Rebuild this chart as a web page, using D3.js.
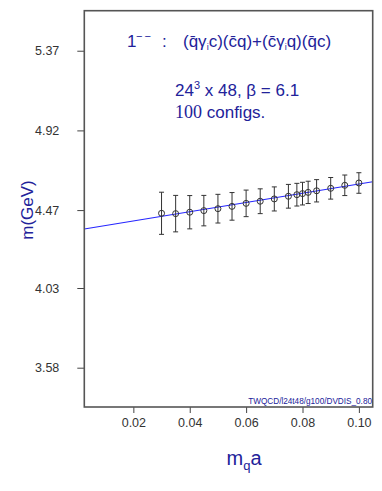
<!DOCTYPE html>
<html><head><meta charset="utf-8">
<script src="https://cdn.jsdelivr.net/npm/d3@7"></script>
<style>body{margin:0;background:#fff}svg{display:block}</style>
</head><body>
<svg id="c" width="382" height="491"></svg>
<script>
const mqa = [0.03,0.035,0.04,0.045,0.05,0.055,0.06,0.065,0.07,0.075,0.078,0.08,0.082,0.085,0.09,0.095,0.1];
const mass = [4.452,4.450,4.458,4.467,4.478,4.491,4.508,4.520,4.533,4.548,4.557,4.563,4.570,4.579,4.593,4.610,4.623];
const err = [0.119,0.103,0.094,0.086,0.081,0.078,0.075,0.070,0.068,0.067,0.064,0.064,0.063,0.063,0.061,0.058,0.058];
const fitLine = [4.356, 2.61]; // intercept, slope
const xTicks = [0.02,0.04,0.06,0.08,0.10];
const yTicks = [3.58,4.03,4.47,4.92,5.37];

const L=84.3,R=372.7,T=10.7,B=407;
const x=d3.scaleLinear().domain([0.0026,0.1049]).range([L,R]);
const y=d3.scaleLinear().domain([3.358,5.596]).range([B,T]);
const svg=d3.select("#c");
const navy="#22229a";

// axes
const gx=svg.append("g").attr("transform",`translate(0,${B})`)
  .call(d3.axisBottom(x).tickValues(xTicks).tickFormat(d3.format(".2f")).tickSize(6).tickPadding(5));
const gy=svg.append("g").attr("transform",`translate(${L},0)`)
  .call(d3.axisLeft(y).tickValues(yTicks).tickFormat(d3.format(".2f")).tickSize(7).tickPadding(18));
[gx,gy].forEach(g=>{
  g.select(".domain").remove();
  g.selectAll("line").attr("stroke","#444");
  g.selectAll("text").attr("fill","#333").style("font-family","Liberation Sans, Arial, sans-serif").style("font-size","12.5px");
});

// fit line
const fx=x.domain();
svg.append("line")
  .attr("x1",x(fx[0])).attr("y1",y(fitLine[0]+fitLine[1]*fx[0]))
  .attr("x2",x(fx[1])).attr("y2",y(fitLine[0]+fitLine[1]*fx[1]))
  .attr("stroke","#2626ff").attr("stroke-width",1.1);

// error bars
const pts=mqa.map((d,i)=>({x:d,y:mass[i],e:err[i]}));
const eb=svg.append("g").attr("stroke","#333").attr("stroke-width",1);
eb.selectAll(".v").data(pts).join("line")
  .attr("x1",d=>x(d.x)).attr("x2",d=>x(d.x)).attr("y1",d=>y(d.y-d.e)).attr("y2",d=>y(d.y+d.e));
eb.selectAll(".t").data(pts).join("line")
  .attr("x1",d=>x(d.x)-2.5).attr("x2",d=>x(d.x)+2.5).attr("y1",d=>y(d.y+d.e)).attr("y2",d=>y(d.y+d.e));
eb.selectAll(".b").data(pts).join("line")
  .attr("x1",d=>x(d.x)-2.5).attr("x2",d=>x(d.x)+2.5).attr("y1",d=>y(d.y-d.e)).attr("y2",d=>y(d.y-d.e));
svg.append("g").selectAll("circle").data(pts).join("circle")
  .attr("cx",d=>x(d.x)).attr("cy",d=>y(d.y)).attr("r",3)
  .attr("fill","none").attr("stroke","#333").attr("stroke-width",1);

// frame
svg.append("rect").attr("x",L).attr("y",T).attr("width",R-L).attr("height",B-T)
  .attr("fill","none").attr("stroke","#555").attr("stroke-width",1.6);

const ff="Liberation Sans, Arial, sans-serif";
// title
const t1=svg.append("text").attr("y",47).attr("fill",navy)
  .style("font-family",ff).style("font-size","17px");
t1.append("tspan").attr("x",127).text("1");
t1.append("tspan").attr("x",136).attr("dy",-7).style("font-size","11px").style("letter-spacing","2px").text("−−");
t1.append("tspan").attr("x",162).attr("dy",7).text(":");
t1.append("tspan").attr("x",183).text("(q̄γ");
t1.append("tspan").attr("dy",3).style("font-size","9px").text("i");
t1.append("tspan").attr("dy",-3).text("c)(c̄q)+(c̄γ");
t1.append("tspan").attr("dy",3).style("font-size","9px").text("i");
t1.append("tspan").attr("dy",-3).text("q)(q̄c)");

const t2=svg.append("text").attr("x",175).attr("y",96).attr("fill",navy)
  .style("font-family",ff).style("font-size","17px");
t2.append("tspan").text("24");
t2.append("tspan").attr("dy",-7).style("font-size","11px").text("3");
t2.append("tspan").attr("dy",7).text(" x 48, β = 6.1");

const t3=svg.append("text").attr("x",175).attr("y",118).attr("fill",navy)
  .style("font-family",ff).style("font-size","17px");
t3.append("tspan").style("font-family","Liberation Serif, serif").style("font-size","18px").text("100");
t3.append("tspan").text(" configs.");

// watermark
svg.append("text").attr("x",372).attr("y",404).attr("text-anchor","end").attr("fill",navy)
  .style("font-family",ff).style("font-size","8.2px").text("TWQCD/l24t48/g100/DVDIS_0.80");

// axis labels
svg.append("text").attr("transform","translate(33,210) rotate(-90)").attr("text-anchor","middle")
  .attr("fill",navy).style("font-family",ff).style("font-size","17px").text("m(GeV)");
const xl=svg.append("text").attr("x",244).attr("y",465).attr("text-anchor","middle").attr("fill",navy)
  .style("font-family",ff).style("font-size","20px");
xl.append("tspan").text("m");
xl.append("tspan").attr("dy",5).style("font-size","13px").text("q");
xl.append("tspan").attr("dy",-5).text("a");
</script>
</body></html>
